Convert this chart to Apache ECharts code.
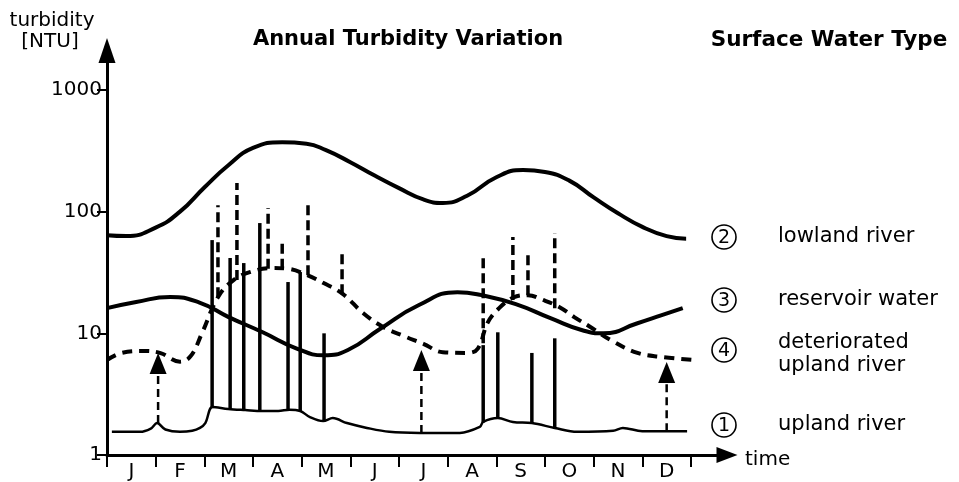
<!DOCTYPE html>
<html><head><meta charset="utf-8">
<script src="https://cdn.jsdelivr.net/npm/echarts@6/dist/echarts.min.js"></script>
<style>html,body{margin:0;padding:0;background:#fff}#c{width:959px;height:482px}</style>
</head><body><div id="c"></div>
<script>
// ---------- data (x = months since 1 Jan, y = turbidity in NTU) ----------
const monthLabels = ['J','F','M','A','M','J','J','A','S','O','N','D'];
const yTickValues = [1, 10, 100, 1000];

// (2) lowland river
const lowlandRiver = [[0,64],[0.4,63],[1,74],[1.5,100],[2,158],[2.5,242],[3,334],[3.6,372],[4.1,362],[4.5,320],[5,255],[5.5,198],[6,156],[6.5,126],[6.9,118],[7.4,135],[8,192],[8.55,220],[9,212],[9.5,180],[10,131],[10.5,97],[11,75],[11.5,63],[11.9,60]];
// (3) reservoir water
const reservoirWater = [[0,16.1],[0.6,18.1],[1.3,19.9],[1.9,17.9],[2.5,13.6],[3.2,10.2],[3.9,7.5],[4.45,6.6],[4.95,7.3],[5.6,10.8],[6.4,17.0],[7.2,21.8],[7.7,20.6],[8.4,17.4],[9.1,13.4],[9.8,10.5],[10.2,10.0],[10.9,12.1],[11.4,14.1],[11.83,16.1]];
// (4) deteriorated upland river
const deterioratedRiver = [[0,6.04],[0.3,6.9],[0.75,7.16],[1.1,6.88],[1.5,5.85],[1.72,6.5],[1.95,10],[2.28,19.8],[2.6,27.4],[2.95,32],[3.4,34.4],[3.7,34],[4.1,30.3],[4.45,25.9],[4.85,21.0],[5.26,14.7],[5.67,11.3],[6.1,9.5],[6.5,8.2],[6.9,7.0],[7.4,6.9],[7.62,7.5],[7.82,12.2],[8.05,16],[8.35,19.7],[8.65,20.6],[8.96,18.8],[9.3,16.4],[9.6,13.6],[9.9,11.5],[10.35,8.8],[10.9,6.9],[11.4,6.4],[12.04,6.04]];
// (1) upland river
const uplandRiver = [[0.1,1.55],[0.68,1.55],[0.9,1.65],[1.03,1.83],[1.2,1.62],[1.5,1.55],[1.75,1.58],[1.91,1.67],[2.02,1.83],[2.17,2.48],[2.49,2.39],[2.84,2.34],[3.19,2.30],[3.52,2.30],[3.75,2.36],[3.97,2.30],[4.17,2.05],[4.44,1.90],[4.64,2.01],[4.93,1.83],[5.34,1.67],[5.8,1.55],[6.43,1.52],[7.25,1.52],[7.66,1.70],[7.73,1.87],[8.03,2.01],[8.34,1.87],[8.73,1.83],[9.2,1.67],[9.66,1.55],[10.4,1.58],[10.6,1.67],[11.0,1.57],[11.92,1.57]];

// solid spikes (storm events on upland river)
const solidSpikeMonth = [2.16, 2.53, 2.81, 3.14, 3.72, 3.97, 4.46, 7.73, 8.03, 8.73, 9.2];
const solidSpikeBase  = [2.43, 2.35, 2.34, 2.30, 2.30, 2.30, 1.90, 1.85, 2.01, 1.83, 1.67];
const solidSpikeTop   = [58.4, 41.6, 37.8, 80.6, 26.4, 31.9, 10.0, 8.0, 10.2, 6.9, 9.1];

// dashed spikes (storm events on deteriorated upland river)
const dashedSpikeMonth = [2.28, 2.67, 3.31, 3.6, 4.13, 4.83, 7.73, 8.34, 8.65, 9.2];
const dashedSpikeBase  = [19.8, 27.4, 34, 34, 30, 21, 8.3, 18.8, 20.6, 16.1];
const dashedSpikeTop   = [113, 172, 107, 55, 124, 46.6, 41.6, 61.8, 45.7, 66.7];

// deterioration arrows (from upland river up to deteriorated river)
const arrowMonth = [1.05, 6.46, 11.5];
const arrowBase  = [1.83, 1.52, 1.57];
const arrowTip   = [6.9, 7.3, 5.8];

// right-hand labels
const typeNumbers = ['2', '3', '4', '1'];
const typeNames = ['lowland river', 'reservoir water', 'deteriorated\nupland river', 'upland river'];

// ---------- chart ----------
const FONT = '"DejaVu Sans", sans-serif';
const chart = echarts.init(document.getElementById('c'), null, {renderer: 'canvas'});

function spikeData(ms, bs, ts) { return ms.map((m, i) => [m, bs[i], ts[i]]); }

function lineSeries(data, width, dash, smooth) {
  return {
    type: 'line', xAxisIndex: 2, yAxisIndex: 1, data: data,
    showSymbol: false, symbol: 'none', smooth: smooth, clip: false,
    lineStyle: {color: '#000', width: width, type: dash || 'solid', cap: 'butt'},
    silent: true, z: 3
  };
}

function spikeSeries(data, width, dash) {
  return {
    type: 'custom', xAxisIndex: 2, yAxisIndex: 1, data: data, clip: false, silent: true, z: 2,
    encode: {x: 0, y: [1, 2]},
    renderItem: function (params, api) {
      const p0 = api.coord([api.value(0), api.value(1)]);
      const p1 = api.coord([api.value(0), api.value(2)]);
      return {type: 'line', shape: {x1: p0[0], y1: p0[1], x2: p1[0], y2: p1[1]},
        style: {stroke: '#000', lineWidth: width, lineDash: dash || null, lineCap: 'butt'}};
    }
  };
}

const typeY = [237, 300, 350, 425];
const graphics = [
  {type: 'text', style: {text: 'turbidity', x: 52, y: 21, font: '20px ' + FONT, fill: '#000', textAlign: 'center', textVerticalAlign: 'middle'}},
  {type: 'text', style: {text: '[NTU]', x: 50, y: 42, font: '20px ' + FONT, fill: '#000', textAlign: 'center', textVerticalAlign: 'middle'}},
  {type: 'text', style: {text: 'Annual Turbidity Variation', x: 408, y: 40, font: 'bold 21px ' + FONT, fill: '#000', textAlign: 'center', textVerticalAlign: 'middle'}},
  {type: 'text', style: {text: 'Surface Water Type', x: 829, y: 40, font: 'bold 21.5px ' + FONT, fill: '#000', textAlign: 'center', textVerticalAlign: 'middle'}},
  {type: 'text', style: {text: 'time', x: 745, y: 460, font: '20px ' + FONT, fill: '#000', textAlign: 'left', textVerticalAlign: 'middle'}}
];
typeNumbers.forEach((n, i) => {
  graphics.push({type: 'circle', shape: {cx: 724, cy: typeY[i], r: 12}, style: {fill: 'none', stroke: '#000', lineWidth: 1.6}});
  graphics.push({type: 'text', style: {text: n, x: 724, y: typeY[i] + 1, font: '19px ' + FONT, fill: '#000', textAlign: 'center', textVerticalAlign: 'middle'}});
  graphics.push({type: 'text', style: {text: typeNames[i], x: 778, y: typeY[i] + (i === 2 ? 4 : 0), font: '21px ' + FONT, fill: '#000', textAlign: 'left', textVerticalAlign: 'middle', lineHeight: 23}});
});

const option = {
  animation: false,
  backgroundColor: '#fff',
  graphic: graphics,
  grid: [
    // grid 0: axis lines with arrows
    {left: 107, right: 232, top: 50.5, bottom: 27, outerBoundsMode: 'none'},
    // grid 1: data area (months 0..12, 1..1000 NTU)
    {left: 107, right: 268, top: 90, bottom: 27, outerBoundsMode: 'none'}
  ],
  xAxis: [
    {gridIndex: 0, type: 'value', min: 0, max: 1, position: 'bottom',
      axisLine: {show: true, onZero: false, symbol: ['none', 'triangle'], symbolSize: [16, 21], lineStyle: {color: '#000', width: 3}},
      axisTick: {show: false}, axisLabel: {show: false}, splitLine: {show: false}},
    {gridIndex: 1, type: 'category', data: monthLabels, boundaryGap: true, position: 'bottom',
      axisLine: {show: false}, splitLine: {show: false},
      axisTick: {show: true, alignWithLabel: false, length: 12, lineStyle: {color: '#000', width: 2}},
      axisLabel: {show: true, interval: 0, color: '#000', fontFamily: 'DejaVu Sans', fontSize: 20, margin: 7}},
    {gridIndex: 1, type: 'value', min: 0, max: 12, show: false, position: 'bottom'}
  ],
  yAxis: [
    {gridIndex: 0, type: 'value', min: 0, max: 1,
      axisLine: {show: true, onZero: false, symbol: ['none', 'triangle'], symbolSize: [17, 25], lineStyle: {color: '#000', width: 3}},
      axisTick: {show: false}, axisLabel: {show: false}, splitLine: {show: false}},
    {gridIndex: 1, type: 'log', logBase: 10, min: yTickValues[0], max: yTickValues[yTickValues.length - 1],
      axisLine: {show: false}, splitLine: {show: false}, minorTick: {show: false},
      axisTick: {show: true, length: 10, lineStyle: {color: '#000', width: 2}},
      axisLabel: {show: true, color: '#000', fontFamily: 'DejaVu Sans', fontSize: 20, margin: 5,
        formatter: v => String(Math.round(v))}}
  ],
  series: [
    spikeSeries(spikeData(solidSpikeMonth, solidSpikeBase, solidSpikeTop), 3.5),
    spikeSeries(spikeData(dashedSpikeMonth, dashedSpikeBase, dashedSpikeTop), 3.5, [10, 5]),
    {
      type: 'custom', xAxisIndex: 2, yAxisIndex: 1, clip: false, silent: true, z: 2,
      data: spikeData(arrowMonth, arrowBase, arrowTip), encode: {x: 0, y: [1, 2]},
      renderItem: function (params, api) {
        const p0 = api.coord([api.value(0), api.value(1)]);
        const p1 = api.coord([api.value(0), api.value(2)]);
        const headH = 21, headW = 17;
        return {type: 'group', children: [
          {type: 'line', shape: {x1: p0[0], y1: p0[1], x2: p1[0], y2: p1[1] + headH},
            style: {stroke: '#000', lineWidth: 2.5, lineDash: [8, 5]}},
          {type: 'polygon', shape: {points: [[p1[0], p1[1]], [p1[0] - headW / 2, p1[1] + headH], [p1[0] + headW / 2, p1[1] + headH]]},
            style: {fill: '#000'}}
        ]};
      }
    },
    lineSeries(lowlandRiver, 4, null, 0.5),
    lineSeries(reservoirWater, 4, null, 0.5),
    lineSeries(deterioratedRiver, 4, [10, 7], 0.4),
    lineSeries(uplandRiver, 2.5, null, 0.35)
  ]
};
chart.setOption(option);
</script>
</body></html>
